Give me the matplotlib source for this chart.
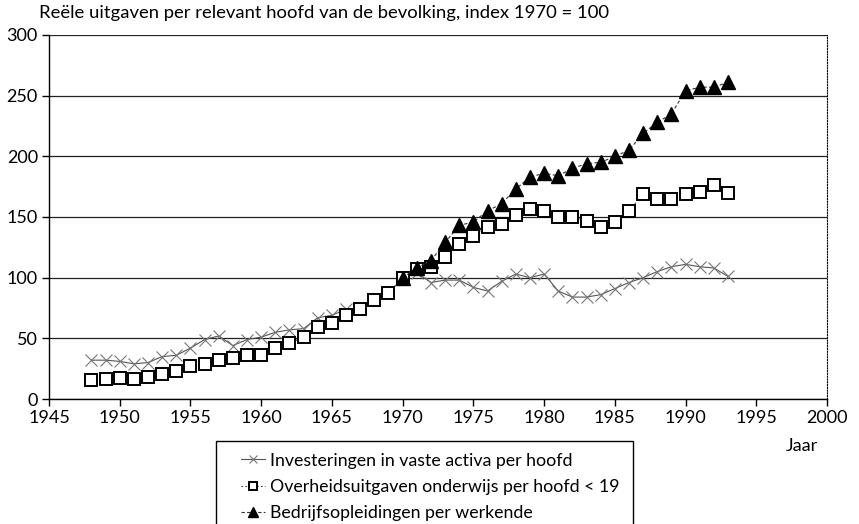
import matplotlib
matplotlib.use("Agg")
import matplotlib.pyplot as plt
from matplotlib.patches import Rectangle

plt.rcParams['font.family'] = ['Lato', 'DejaVu Sans']

# ---- data ----
years_a = list(range(1948, 1994))
investeringen = [32, 32, 31, 29, 30, 35, 36, 42, 49, 52, 44, 49, 51, 55, 57, 58,
                 67, 69, 74, 75, 82, 87, 100, 104, 96, 98, 98, 92, 89, 97, 103,
                 100, 103, 89, 84, 84, 86, 91, 96, 100, 105, 109, 111, 109, 108, 101]
onderwijs = [16, 16.5, 17, 16.5, 18, 21, 23, 27, 29, 32, 33.5, 36, 36.5, 42, 46, 51,
             59, 63, 69, 74, 82, 87, 100, 107, 109, 117, 128, 134, 142, 144, 152,
             157, 155, 150, 150, 147, 142, 146, 155, 169, 164.5, 164.5, 169, 171, 176, 170]
years_b = list(range(1970, 1994))
bedrijf = [100, 108, 114, 129, 143, 146, 155, 161, 173, 183, 186, 184, 190, 194,
           195, 200, 205, 219, 228, 235, 254, 257, 257, 261]

labels = ["Investeringen in vaste activa per hoofd",
          "Overheidsuitgaven onderwijs per hoofd < 19",
          "Bedrijfsopleidingen per werkende"]
xticks = list(range(1945, 2001, 5))
yticks = list(range(0, 301, 50))

fig = plt.figure(figsize=(8.59, 5.24), dpi=100)
ax = fig.add_axes([49/859, 1-399/524, (827-49)/859, (399-35)/524])

l1, = ax.plot(years_a, investeringen, color="#555555", lw=0.8, ls="-",
              marker="x", ms=8, mew=0.8, mec="#777777", zorder=3)
l2, = ax.plot(years_a, onderwijs, color="#444444", lw=0.8, ls=(0, (1.5, 2)),
              marker="s", ms=8.5, mfc="white", mec="black", mew=1.4, zorder=4)
l3, = ax.plot(years_b, bedrijf, color="#333333", lw=0.8, ls=(0, (3, 2)),
              marker="^", ms=10, mfc="black", mec="black", zorder=5)

ax.set_xlim(1945, 2000)
ax.set_ylim(0, 300)
ax.set_xticks(xticks)
ax.set_yticks(yticks)
ax.tick_params(labelsize=13, length=5, width=1, color="black", pad=3)
ax.yaxis.grid(True, color="#222222", lw=0.9)
ax.set_axisbelow(True)
ax.spines["top"].set_visible(False)
ax.spines["right"].set_linestyle((0, (1, 1.5)))
ax.spines["right"].set_linewidth(0.8)
ax.spines["left"].set_linewidth(1.0)
ax.spines["bottom"].set_linewidth(1.0)

fig.text(39/859, 1-13/524, "Reële uitgaven per relevant hoofd van de bevolking, index 1970 = 100",
         ha="left", va="center", fontsize=13.3)
fig.text(802/859, 1-446/524, "Jaar", ha="center", va="center", fontsize=13)

# legend box, cut off at the bottom edge like the reference
fig.patches.append(Rectangle((216/859, -0.05), (633-216)/859, (1-441/524)+0.05,
                             transform=fig.transFigure, fc="white", ec="black", lw=1.0))
fig.legend([l1, l2, l3], labels, loc="upper left",
           bbox_to_anchor=(229/859, 1-441/524), frameon=False, fontsize=12.8,
           handlelength=1.35, handletextpad=0.3, labelspacing=0.58, borderpad=0.15,
           markerscale=0.7)

fig.savefig("out.png", dpi=100, facecolor="white")
